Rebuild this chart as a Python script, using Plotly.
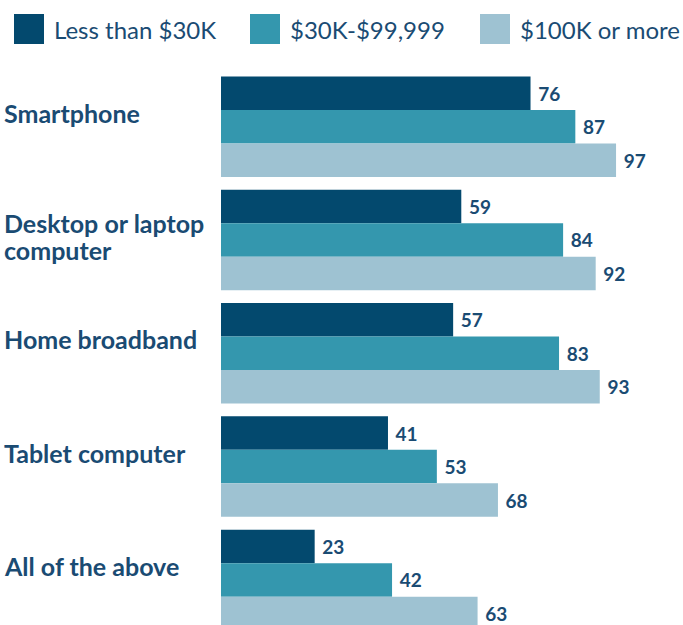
import plotly.graph_objects as go

categories = ["Smartphone", "Desktop or laptop<br>computer", "Home broadband", "Tablet computer", "All of the above"]
series_names = ["Less than $30K", "$30K-$99,999", "$100K or more"]
less_30k = [76, 59, 57, 41, 23]
mid_30k_99k = [87, 84, 83, 53, 42]
over_100k = [97, 92, 93, 68, 63]

colors = ["#03496e", "#3497ae", "#9ec2d2"]
text_color = "#1a4b73"
font_family = "Lato, 'Noto Sans', Arial, sans-serif"

W, H = 683, 625
ml, mr, mt, mb = 221, 14, 70, 0
pw = W - ml - mr
ph = H - mt - mb

def px_x(x):
    return (x - ml) / pw

def px_y(y):
    return (H - mb - y) / ph

fig = go.Figure()
for name, vals, col in zip(series_names, [less_30k, mid_30k_99k, over_100k], colors):
    fig.add_trace(go.Bar(
        y=categories, x=vals, name=name, orientation="h",
        marker=dict(color=col, line=dict(width=0)),
        text=[f" {v}" for v in vals], textposition="outside",
        textfont=dict(family=font_family, size=19, color=text_color, weight="bold"),
        cliponaxis=False, constraintext="none", showlegend=False,
        hoverinfo="skip",
    ))

annotations = []
line_gap = 27
for cat in categories:
    lines = cat.split("<br>")
    n = len(lines)
    base = 14 if n == 1 else 3
    for i, line in enumerate(lines):
        shift = base + (n - 1) * line_gap / 2 - i * line_gap
        annotations.append(dict(
            x=px_x(2), xref="paper", y=cat, yref="y", xanchor="left", yanchor="middle",
            align="left", text=line, showarrow=False, yshift=shift,
            font=dict(family=font_family, size=25, color=text_color, weight="bold"),
        ))

shapes = []
legend_x = [14, 250, 480]
for name, col, lx in zip(series_names, colors, legend_x):
    shapes.append(dict(type="rect", xref="paper", yref="paper",
                       x0=px_x(lx), x1=px_x(lx + 30), y0=px_y(44), y1=px_y(14),
                       fillcolor=col, line=dict(width=0), layer="above"))
    annotations.append(dict(
        x=px_x(lx + 38), xref="paper", y=px_y(29), yref="paper",
        xanchor="left", yanchor="middle", text=name, showarrow=False,
        font=dict(family=font_family, size=24, color=text_color),
    ))

fig.update_layout(
    width=W, height=H,
    margin=dict(l=ml, r=mr, t=mt, b=mb),
    paper_bgcolor="white", plot_bgcolor="white",
    barmode="group", bargap=0.113, bargroupgap=0,
    xaxis=dict(range=[0, 110], visible=False, fixedrange=True),
    yaxis=dict(range=[4.398, -0.5], showticklabels=False, showgrid=False,
               zeroline=False, showline=False, ticks="", fixedrange=True),
    annotations=annotations, shapes=shapes,
    showlegend=False,
)

fig.write_html("out.html")
